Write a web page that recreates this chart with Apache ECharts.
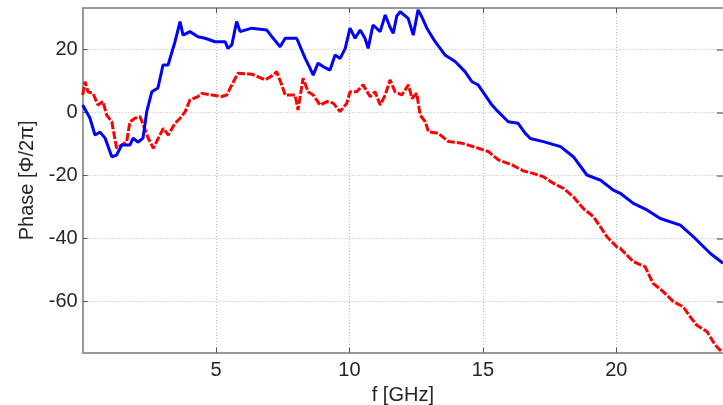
<!DOCTYPE html>
<html>
<head>
<meta charset="utf-8">
<script src="https://cdn.jsdelivr.net/npm/echarts@6/dist/echarts.min.js"></script>
<style>html,body{margin:0;padding:0;background:#fff}#c{width:723px;height:405px}</style>
</head>
<body>
<div id="c"></div>
<script>
const xTicks = [5, 10, 15, 20];
const yTicks = [20, 0, -20, -40, -60];
const xName = 'f [GHz]';
const yName = 'Phase [Φ/2π]';

const blueF = [0.00,0.27,0.46,0.65,0.84,1.09,1.27,1.46,1.77,1.89,2.07,2.26,2.40,2.59,2.82,3.01,3.20,3.46,3.65,3.76,4.02,4.32,4.59,4.96,5.34,5.44,5.59,5.77,5.90,6.34,6.90,7.09,7.40,7.59,8.02,8.34,8.52,8.64,8.82,9.01,9.27,9.46,9.65,9.84,10.02,10.21,10.40,10.58,10.70,10.88,11.15,11.34,11.52,11.64,11.77,11.90,12.20,12.39,12.57,12.71,12.90,13.21,13.58,13.96,14.33,14.59,14.82,15.08,15.34,15.57,15.95,16.32,16.59,16.78,17.27,17.91,18.39,18.90,19.40,19.89,20.15,20.64,21.15,21.65,22.40,22.89,23.53,24.00];
const blueP = [2.3,-1.8,-7.2,-6.3,-8.2,-14.1,-13.6,-10.4,-10.4,-8.2,-9.5,-8.2,0.2,6.5,7.7,15,15,22.4,28.8,24.5,25.6,24,23.5,22.4,22.4,20.3,21.4,28.8,25.6,26.7,26.1,24,20.8,23.5,23.5,17.1,14,11.8,15.6,14.5,13.4,18.2,17.1,20.3,26.7,23.5,26.1,23.5,20.3,27.7,25.6,30.9,27,25.1,30.5,31.9,29.8,24.5,32.5,30.3,26.7,22.4,18.2,16.1,12.9,9.7,8.7,5.5,2.3,0.2,-3,-3.5,-6.7,-8.3,-9.3,-10.9,-14.1,-19.9,-21.5,-24.7,-25.7,-28.9,-31,-33.7,-35.8,-39.5,-44.8,-47.9];

const redF = [0.00,0.09,0.20,0.39,0.57,0.76,0.90,1.09,1.27,1.46,1.65,1.77,1.96,2.15,2.27,2.46,2.65,2.83,3.02,3.21,3.46,3.65,3.84,4.02,4.32,4.46,4.84,5.21,5.40,5.59,5.82,6.34,6.84,7.14,7.27,7.46,7.59,7.96,8.07,8.26,8.45,8.64,8.90,9.15,9.39,9.65,9.90,10.02,10.27,10.51,10.77,10.96,11.15,11.34,11.52,11.71,11.96,12.21,12.34,12.52,12.65,12.84,12.96,13.33,13.71,14.21,14.83,15.21,15.58,16.09,16.52,16.88,17.26,17.64,18.01,18.39,18.76,19.14,19.40,19.65,20.02,20.15,20.64,21.08,21.38,21.76,22.14,22.51,22.77,23.02,23.40,23.71,23.96];
const redP = [5.5,9.7,6.5,6,2.3,3.4,-0.9,-3,-11.4,-10.4,-9.3,-3,-1.9,-1.4,-4,-8.3,-11.4,-8.3,-5.1,-7.2,-3.5,-1.9,0.2,3.9,5,6,5.5,5,5.5,8.7,12.4,12.1,10.3,11.8,12.9,8.7,5.5,5.5,0.7,10.8,6.5,5.5,2.3,3.4,2.9,0.2,2.9,6.5,6.5,8.7,5,6.5,2.3,5.5,10.3,6.5,5.5,8.7,4.4,6,-0.9,-3,-6.2,-6.7,-9.3,-9.8,-11.4,-12.5,-15.1,-16.7,-18.6,-19.4,-20.4,-22.5,-24.1,-26.8,-30.5,-33.1,-36.3,-39.5,-42.7,-43.2,-47.4,-49,-54.3,-56.9,-60.1,-61.7,-64.9,-67.6,-69.6,-73.9,-76];

const pair = (xs, ys) => xs.map((x, i) => [x, ys[i]]);
const FONT = 'Liberation Sans, Arial, sans-serif';
const XMIN = 0, XMAX = 24, YMIN = -76.3, YMAX = 33.1;

const chart = echarts.init(document.getElementById('c'), null, {renderer: 'canvas'});
chart.setOption({
  animation: false,
  backgroundColor: '#fff',
  grid: {left: 82.7, right: 0, top: 8, bottom: 52.3, containLabel: false, outerBoundsMode: 'none'},
  xAxis: [{
    type: 'value', min: XMIN, max: XMAX, position: 'bottom',
    name: xName, nameLocation: 'middle', nameGap: 29,
    nameTextStyle: {fontFamily: FONT, fontSize: 20, color: '#262626'},
    axisLine: {show: true, onZero: false, lineStyle: {color: '#999', width: 2}},
    axisTick: {show: true, inside: true, length: 5, customValues: xTicks, lineStyle: {color: '#555'}},
    axisLabel: {customValues: xTicks, fontFamily: FONT, fontSize: 20, color: '#262626', margin: 8},
    splitLine: {show: true, lineStyle: {type: [1, 2], color: '#bbb', width: 1}}
  }, {
    type: 'value', min: XMIN, max: XMAX, position: 'top',
    axisLine: {show: true, onZero: false, lineStyle: {color: '#999', width: 2}},
    axisTick: {show: true, inside: true, length: 5, customValues: xTicks, lineStyle: {color: '#555'}},
    axisLabel: {show: false}, splitLine: {show: false}
  }],
  yAxis: [{
    type: 'value', min: YMIN, max: YMAX, position: 'left',
    name: yName, nameLocation: 'middle', nameGap: 38,
    nameTextStyle: {fontFamily: FONT, fontSize: 20, color: '#262626'},
    axisLine: {show: true, onZero: false, lineStyle: {color: '#999', width: 2}},
    axisTick: {show: true, inside: true, length: 5, customValues: yTicks, lineStyle: {color: '#555'}},
    axisLabel: {customValues: yTicks, fontFamily: FONT, fontSize: 20, color: '#262626', margin: 5},
    splitLine: {show: true, lineStyle: {type: [1, 2], color: '#bbb', width: 1}}
  }, {
    type: 'value', min: YMIN, max: YMAX, position: 'right',
    axisLine: {show: false, onZero: false},
    axisTick: {show: true, inside: true, length: 6, customValues: yTicks, lineStyle: {color: '#999', width: 2}},
    axisLabel: {show: false}, splitLine: {show: false}
  }],
  series: [{
    type: 'line', name: 'blue', data: pair(blueF, blueP), showSymbol: false,
    xAxisIndex: 0, yAxisIndex: 0,
    lineStyle: {color: '#0000ff', width: 3}, z: 3
  }, {
    type: 'line', name: 'red', data: pair(redF, redP), showSymbol: false,
    xAxisIndex: 0, yAxisIndex: 0,
    lineStyle: {color: '#ff0000', width: 3, type: [8, 2]}, z: 2
  }]
});
</script>
</body>
</html>
